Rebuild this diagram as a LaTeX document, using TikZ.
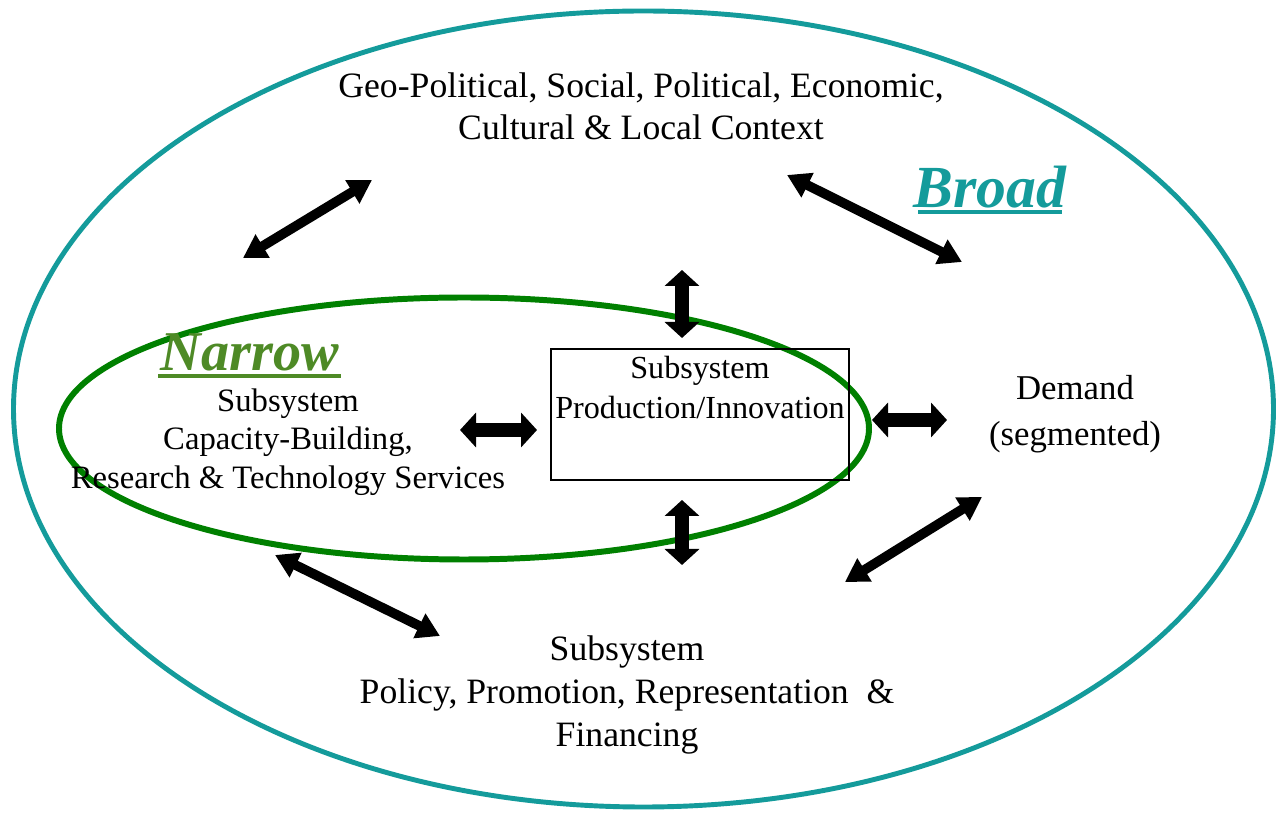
\documentclass[tikz,border=0pt]{standalone}
\usepackage{fontspec}
\setmainfont{Liberation Serif}
\usepackage{tikz}
\usetikzlibrary{arrows.meta}

\definecolor{broadcol}{RGB}{20,155,155}
\definecolor{narrowcol}{RGB}{0,128,0}
\definecolor{narrowtext}{RGB}{78,138,38}

\tikzset{
  txt/.style={align=center, inner sep=0pt},
  fat/.style={line width=8.5pt, {Triangle[width=0.68cm, length=0.32cm]}-{Triangle[width=0.68cm, length=0.32cm]}},
  slim/.style={line width=5.5pt, {Triangle[width=0.52cm, length=0.46cm]}-{Triangle[width=0.52cm, length=0.46cm]}}
}

\begin{document}
\begin{tikzpicture}[x=0.02cm, y=-0.02cm]
\useasboundingbox (0,0) rectangle (1282,813);

% the two ellipses
\draw[broadcol, line width=2.8pt] (643.5,409) ellipse [x radius=630, y radius=398];
\draw[narrowcol, line width=3.4pt] (464,428.5) ellipse [x radius=405, y radius=131];

% subsystems and context
\node[txt, font=\fontsize{20.3}{24}\selectfont] (context) at (641,106) {Geo-Political, Social, Political, Economic,\\Cultural \& Local Context};
\node[txt, font=\fontsize{18.6}{22}\selectfont] (capacity) at (288,442) {Subsystem\\Capacity-Building,\\Research \& Technology Services};
\node[draw, line width=1.6pt, minimum width=5.96cm, minimum height=2.62cm, inner sep=0pt] (prod) at (700,414.5) {};
\node[txt, font=\fontsize{18.3}{22.5}\selectfont, anchor=north] (prodtext) at (700,356) {Subsystem\\Production/Innovation};
\node[txt, font=\fontsize{19.8}{26}\selectfont] (demand) at (1075,414) {Demand\\(segmented)};
\node[txt, font=\fontsize{20.3}{24.5}\selectfont] (policy) at (627,695) {Subsystem\\Policy, Promotion, Representation~ \&\\Financing};

% labels
\node[text=broadcol, font=\fontsize{34}{34}\selectfont\bfseries\itshape, inner sep=0pt] (broad) at (990,187) {Broad};
\draw[broadcol, line width=2.2pt] (918,212) -- (1062,212);
\node[text=narrowtext, font=\fontsize{32}{32}\selectfont\bfseries\itshape, inner sep=0pt] (narrow) at (250,352) {Narrow};
\draw[narrowtext, line width=2.2pt] (158,376) -- (341,376);

% arrow ends
\coordinate (a1) at (243,258); \coordinate (b1) at (372,180);
\coordinate (a2) at (787,175); \coordinate (b2) at (962,262);
\coordinate (a3) at (682,270); \coordinate (b3) at (682,338);
\coordinate (a4) at (460,430); \coordinate (b4) at (537,430);
\coordinate (a5) at (872,420); \coordinate (b5) at (947,420);
\coordinate (a6) at (682,500); \coordinate (b6) at (682,565);
\coordinate (a7) at (275,555); \coordinate (b7) at (440,636);
\coordinate (a8) at (845,582); \coordinate (b8) at (982,497);

\draw[slim] (a1) -- (b1);
\draw[slim] (a2) -- (b2);
\draw[fat] (a3) -- (b3);
\draw[fat] (a4) -- (b4);
\draw[fat] (a5) -- (b5);
\draw[fat] (a6) -- (b6);
\draw[slim] (a7) -- (b7);
\draw[slim] (a8) -- (b8);
\end{tikzpicture}
\end{document}
